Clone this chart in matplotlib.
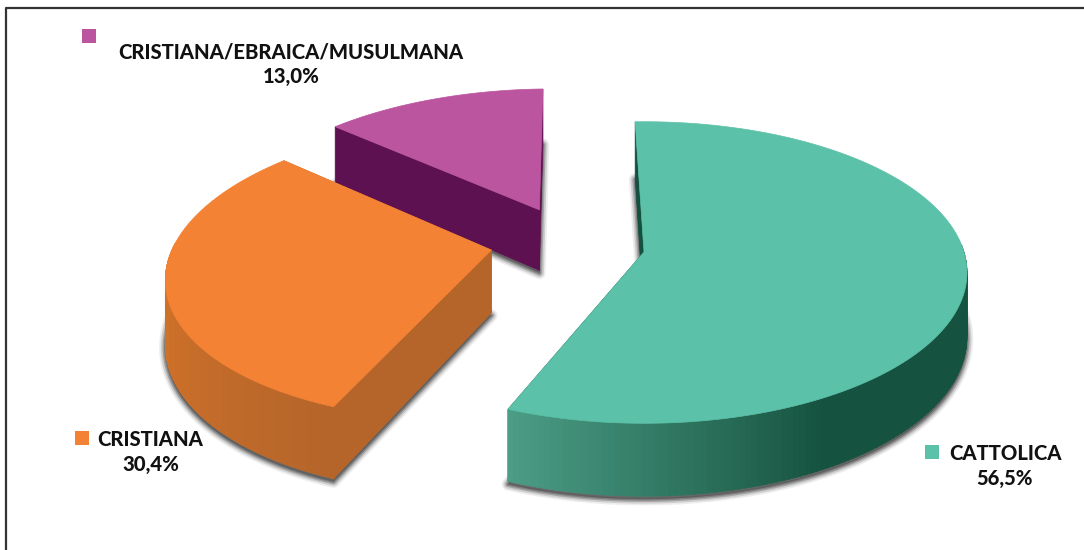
import numpy as np
import matplotlib
matplotlib.use('Agg')
import matplotlib.pyplot as plt
from matplotlib.colors import to_rgb
from matplotlib.patches import Polygon

labels = ['CATTOLICA', 'CRISTIANA', 'CRISTIANA/EBRAICA/MUSULMANA']
values = [56.5, 30.4, 13.0]

top_colors = ['#5bc1a8', '#f48234', '#bb559f']
side_light = ['#4c9d85', '#da7629', '#5e1150']
side_dark = ['#15523f', '#b5652a', '#5e1150']
cut_colors = ['#14503f', '#b5652a', '#5e1150']
dark_from = [0.45, 1.0, 1.0]

# exploded offset of each slice on the pie plane
explode_x = [0.0, -0.478, -0.34]
explode_y = [0.0, 0.013, 0.296]

# pie projection, in image pixels
cx, cy = 644, 252
rx, ry = 320, 148
persp = 0.136
depth = 63
start_angle = 91.8


def project(x, y, z=0.0):
    s = 1 / (1 + persp * y)
    return cx + rx * x * s, cy - ry * y * s + z * depth * s


def sector(a0, a1, ox, oy, z=0.0):
    t = np.radians(np.linspace(a0, a1, 160))
    xs = np.r_[ox, ox + np.cos(t)]
    ys = np.r_[oy, oy + np.sin(t)]
    return np.column_stack(project(xs, ys, z))


def blend(c0, c1, f):
    c0, c1 = np.array(to_rgb(c0)), np.array(to_rgb(c1))
    return tuple(c0 + (c1 - c0) * f)


def quad(ax, x0, y0, x1, y1, color, zorder):
    p = [project(x0, y0), project(x1, y1), project(x1, y1, 1), project(x0, y0, 1)]
    ax.add_patch(Polygon(p, closed=True, fc=color, ec=color, lw=0.5, zorder=zorder))


fig = plt.figure(figsize=(10.84, 5.5), dpi=100)
ax = fig.add_axes([0, 0, 1, 1])
ax.set_xlim(0, 1084)
ax.set_ylim(550, 0)
ax.axis('off')

# frame, only top and left show up
ax.plot([6, 6, 1084], [550, 8, 8], color='#333333', lw=1.6, zorder=1)

angles = start_angle - np.cumsum([0] + values) / sum(values) * 360
order = [2, 0, 1]  # back to front; orange sits over purple and teal shadow
for n, i in enumerate(order):
    a0, a1 = angles[i], angles[i + 1]
    ox, oy = explode_x[i], explode_y[i]
    z = 10 + n * 10

    # soft shadow around the bottom of the slice
    base = sector(a0, a1, ox, oy, 1.04)
    for lw, alpha in [(9, 0.1), (6.5, 0.2), (4, 0.35), (2, 0.45)]:
        ax.add_patch(Polygon(base, closed=True, fc='#555555', ec='#555555', lw=lw,
                             alpha=alpha, joinstyle='round', zorder=z))

    # flat cut faces
    for a in (a0, a1):
        t = np.radians(a)
        quad(ax, ox, oy, ox + np.cos(t), oy + np.sin(t), cut_colors[i], z + 1)

    # rim, only the front part shows
    steps = np.linspace(a1, a0, 200)
    steps = [a for a in steps if np.sin(np.radians(a)) < 0.05]
    for k in range(len(steps) - 1):
        f = k / max(len(steps) - 2, 1)
        f = min(f / dark_from[i], 1)
        col = blend(side_light[i], side_dark[i], f)
        t0, t1 = np.radians(steps[k]), np.radians(steps[k + 1] + 0.2)
        quad(ax, ox + np.cos(t0), oy + np.sin(t0), ox + np.cos(t1), oy + np.sin(t1), col, z + 2)

    ax.add_patch(Polygon(sector(a0, a1, ox, oy), closed=True, fc=top_colors[i],
                         ec=top_colors[i], lw=0.5, zorder=z + 3))

# data labels
label_x = [1005, 151, 291]
label_y = [(453, 479), (440, 465), (52, 77)]
key_x = [932, 82, 89]
key_y = [452, 438, 36]
name_x = [1005, 150, 291]
for i in range(3):
    pct = f'{values[i]:.1f}%'.replace('.', ',')
    ax.text(name_x[i], label_y[i][0], labels[i], ha='center', va='center', fontsize=14.6,
            family='Lato', fontweight='black', color='#111111', zorder=60)
    ax.text(label_x[i], label_y[i][1], pct, ha='center', va='center', fontsize=14.6,
            family='Lato', fontweight='black', color='#111111', zorder=60)
    ax.scatter([key_x[i]], [key_y[i]], marker='s', s=95, color=top_colors[i], lw=0, zorder=60)

fig.savefig('out.png', dpi=100)
